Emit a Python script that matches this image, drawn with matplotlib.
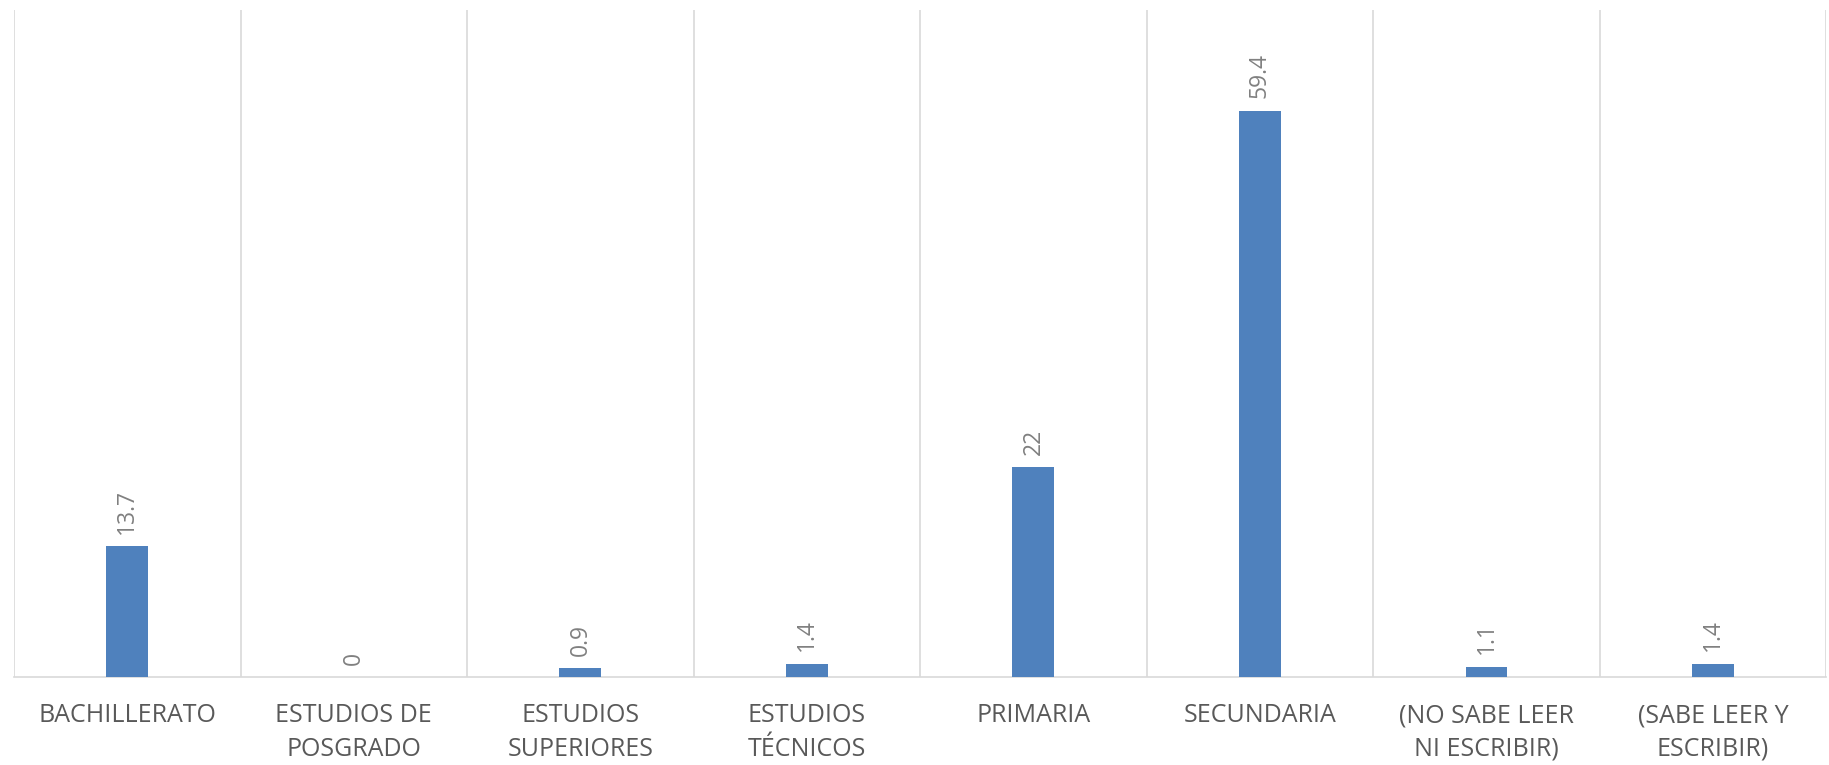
import matplotlib
matplotlib.use("Agg")
import matplotlib.pyplot as plt

# Data
categories = ["BACHILLERATO", "ESTUDIOS DE\nPOSGRADO", "ESTUDIOS\nSUPERIORES",
              "ESTUDIOS\nTÉCNICOS", "PRIMARIA", "SECUNDARIA",
              "(NO SABE LEER\nNI ESCRIBIR)", "(SABE LEER Y\nESCRIBIR)"]
values = [13.7, 0, 0.9, 1.4, 22, 59.4, 1.1, 1.4]
value_labels = ["13.7", "0", "0.9", "1.4", "22", "59.4", "1.1", "1.4"]

plt.rcParams['font.family'] = ['Open Sans', 'DejaVu Sans']

fig = plt.figure(figsize=(18.29, 7.65), dpi=100)
ax = fig.add_axes([0.0077, 0.115, 0.9908, 0.872])

x = list(range(len(categories)))
ax.bar(x, values, width=0.185, color='#4f81bd', zorder=3)

ax.set_xlim(-0.5, len(categories) - 0.5)
ax.set_ylim(0, 70)

# vertical separators between categories
for b in [i - 0.5 for i in range(len(categories) + 1)]:
    ax.axvline(b, color='#d9d9d9', linewidth=1.2, zorder=1)

for s in ['top', 'right', 'left']:
    ax.spines[s].set_visible(False)
ax.spines['bottom'].set_color('#d9d9d9')
ax.spines['bottom'].set_linewidth(1.2)

ax.set_yticks([])
ax.set_xticks(x)
ax.set_xticklabels(categories, fontsize=18, color='#595959', linespacing=1.45)
ax.tick_params(axis='x', length=0, pad=19)

# data labels
for xi, v, lab in zip(x, values, value_labels):
    ax.annotate(lab, (xi, v), xytext=(0, 9), textcoords='offset points',
                rotation=90, ha='center', va='bottom', fontsize=16.5, color='#808080')

fig.savefig('out.png', dpi=100)
